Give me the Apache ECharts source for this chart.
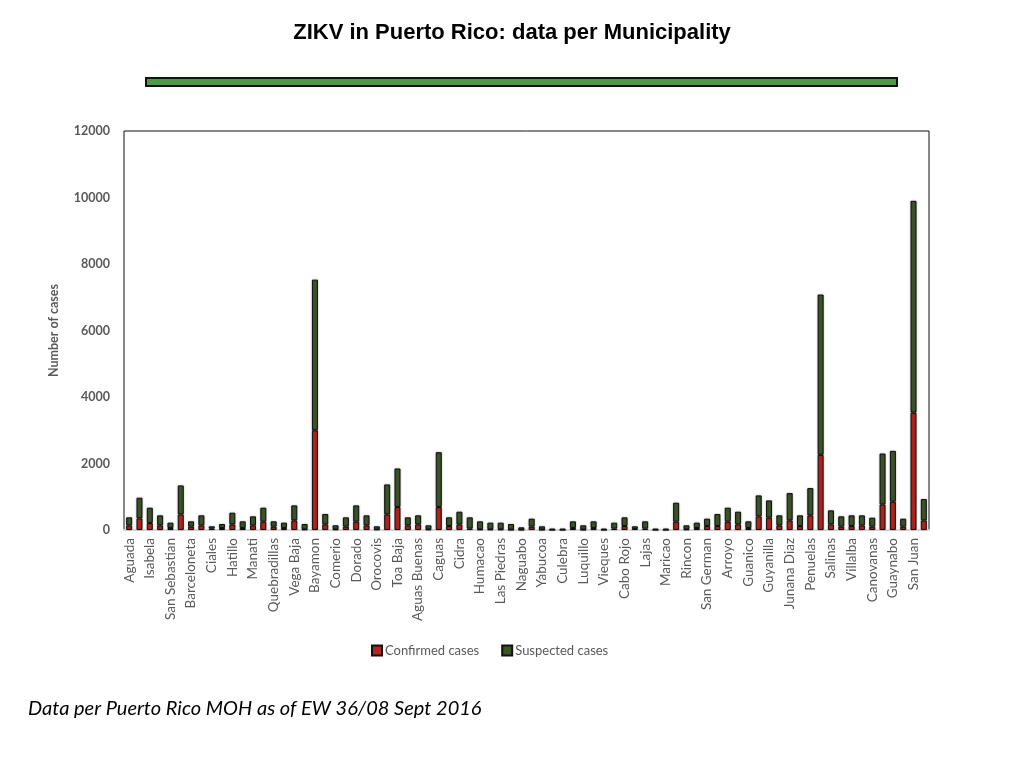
<!DOCTYPE html>
<html>
<head>
<meta charset="utf-8">
<script src="https://cdn.jsdelivr.net/npm/echarts@6/dist/echarts.min.js"></script>
<style>
  html, body { margin: 0; padding: 0; background: #fff; }
  #chart { width: 1024px; height: 768px; }
</style>
</head>
<body>
<div id="chart"></div>
<script>
// municipalities (only every other one is labelled on the axis)
var municipios = [
  "Aguada", "Aguadilla", "Isabela", "Moca", "San Sebastian", "Arecibo",
  "Barceloneta", "Camuy", "Ciales", "Florida", "Hatillo", "Lares",
  "Manati", "Morovis", "Quebradillas", "Utuado", "Vega Baja", "Vega Alta",
  "Bayamon", "Catano", "Comerio", "Corozal", "Dorado", "Naranjito",
  "Orocovis", "Toa Alta", "Toa Baja", "Aibonito", "Aguas Buenas", "Barranquitas",
  "Caguas", "Cayey", "Cidra", "Gurabo", "Humacao", "Juncos",
  "Las Piedras", "Maunabo", "Naguabo", "San Lorenzo", "Yabucoa", "Ceiba",
  "Culebra", "Fajardo", "Luquillo", "Rio Grande", "Vieques", "Anasco",
  "Cabo Rojo", "Hormigueros", "Lajas", "Las Marias", "Maricao", "Mayaguez",
  "Rincon", "Sabana Grande", "San German", "Adjuntas", "Arroyo", "Coamo",
  "Guanico", "Guayama", "Guyanilla", "Jayuya", "Junana Diaz", "Patillas",
  "Penuelas", "Ponce", "Salinas", "Santa Isabel", "Villalba", "Yauco",
  "Canovanas", "Carolina", "Guaynabo", "Loiza", "San Juan", "Trujillo Alto"
];

var confirmados = [
  140, 350, 210, 140, 60, 470, 100, 140, 40, 60, 170, 60,
  140, 250, 100, 60, 290, 20, 3000, 170, 20, 100, 250, 140,
  20, 470, 690, 140, 170, 20, 690, 120, 170, 40, 20, 20,
  20, 10, 10, 100, 10, 5, 5, 60, 10, 60, 5, 40,
  120, 30, 40, 5, 5, 250, 20, 60, 120, 120, 250, 170,
  60, 410, 370, 140, 290, 120, 440, 2260, 170, 100, 120, 140,
  100, 770, 850, 100, 3530, 290
];

var sospechosos = [
  240, 620, 460, 300, 160, 870, 160, 300, 70, 120, 350, 200,
  270, 420, 160, 160, 450, 160, 4530, 310, 120, 280, 490, 300,
  90, 900, 1160, 240, 270, 120, 1650, 260, 380, 340, 240, 200,
  200, 170, 70, 240, 100, 35, 35, 200, 130, 200, 35, 180,
  260, 80, 220, 35, 35, 570, 120, 160, 220, 360, 420, 380,
  200, 630, 520, 300, 820, 320, 820, 4820, 420, 310, 320, 300,
  270, 1530, 1530, 240, 6370, 640
];

var gris = "#595959";

(function () {
  var myChart = echarts.init(document.getElementById("chart"));

  const barBorder = {
    borderColor: "#111",
    borderWidth: 1,
    shadowColor: "rgba(0,0,0,0.3)",
    shadowBlur: 2,
  };

  var option = {
    backgroundColor: "#fff",
    animation: false,
    title: {
      text: "ZIKV in Puerto Rico: data per Municipality",
      left: "center",
      top: 17,
      textStyle: {
        fontFamily: "Liberation Sans",
        fontWeight: "bold",
        fontSize: 22,
        color: "#000",
      },
    },
    legend: {
      left: 366,
      top: 639,
      itemWidth: 10,
      itemHeight: 10,
      itemGap: 22,
      icon: "rect",
      textStyle: {
        fontFamily: "Lato",
        fontSize: 13,
        color: gris,
        padding: [0, 0, 0, -2],
      },
      data: ["Confirmed cases", "Suspected cases"],
    },
    grid: {
      left: 124,
      right: 95,
      top: 131,
      bottom: 238,
      show: true,
      borderColor: "#111",
      borderWidth: 1,
    },
    xAxis: {
      type: "category",
      data: municipios,
      axisLine: { lineStyle: { color: "#d9d9d9", width: 2 } },
      axisTick: { show: false },
      axisLabel: {
        rotate: 90,
        interval: 1,
        margin: 8,
        fontFamily: "Lato",
        fontSize: 13.5,
        color: gris,
      },
    },
    yAxis: {
      type: "value",
      min: 0,
      max: 12000,
      interval: 2000,
      name: "Number of cases",
      nameLocation: "middle",
      nameGap: 64,
      nameTextStyle: {
        fontFamily: "Lato",
        fontWeight: "bold",
        fontSize: 12.5,
        color: gris,
      },
      axisLine: { show: false },
      axisTick: { show: false },
      splitLine: { show: false },
      axisLabel: {
        margin: 14,
        fontFamily: "Lato",
        fontWeight: "bold",
        fontSize: 12.5,
        color: gris,
        formatter: function (v) { return String(v); },
      },
    },
    series: [
      {
        name: "Confirmed cases",
        type: "bar",
        stack: "total",
        barWidth: 6,
        data: confirmados,
        itemStyle: Object.assign({ color: "#b3241b" }, barBorder),
      },
      {
        name: "Suspected cases",
        type: "bar",
        stack: "total",
        barWidth: 6,
        data: sospechosos,
        itemStyle: Object.assign({ color: "#3c5527" }, barBorder),
      },
    ],
    graphic: [
      {
        type: "rect",
        left: 145,
        top: 77,
        shape: { width: 751, height: 8 },
        style: { fill: "#4e9a48", stroke: "#111", lineWidth: 2 },
      },
      {
        type: "text",
        left: 28,
        top: 699,
        style: {
          text: "Data per Puerto Rico MOH as of EW 36/08 Sept 2016",
          font: "italic 20px Lato",
          fill: "#000",
        },
      },
    ],
  };

  myChart.setOption(option);
  window.addEventListener("resize", function () {
    myChart.resize();
  });
})();
</script>
</body>
</html>
